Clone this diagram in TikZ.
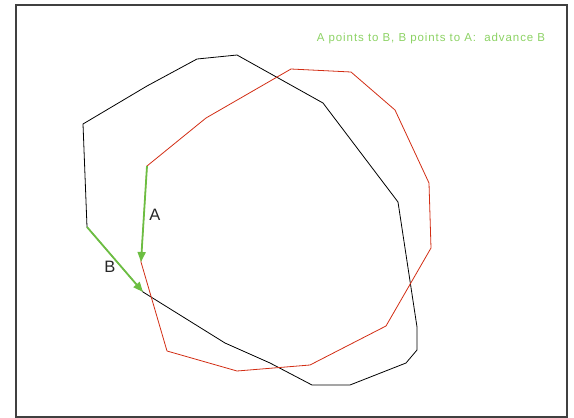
\documentclass[tikz,border=0pt]{standalone}
\usepackage{fontspec}
\setmainfont{Liberation Sans}
\newfontfamily\notefont[LetterSpace=8]{Liberation Sans}
\usetikzlibrary{arrows.meta}
\definecolor{grn}{RGB}{108,190,66}
\definecolor{txtgrn}{RGB}{140,210,100}
\definecolor{redline}{RGB}{210,45,20}
\tikzset{
  frame/.style={draw=black!75,line width=1.2pt},
  blackpoly/.style={draw=black,line width=0.8pt,line join=round},
  redpoly/.style={draw=redline,line width=0.8pt,line join=round},
  ptr/.style={draw=grn,line width=1.8pt,-{Triangle[length=10pt,width=8pt]}},
  lbl/.style={font=\fontsize{16.5}{18}\selectfont,text=black!85,inner sep=0pt},
  note/.style={font=\notefont\fontsize{11.5}{13}\selectfont,text=txtgrn,inner sep=0pt}
}
\begin{document}
\begin{tikzpicture}[x=1pt,y=-1pt]
\useasboundingbox (0,0) rectangle (574,418);
\draw[frame] (16,5) rectangle (567,417);
% black polygon
\coordinate (b1) at (83,124);
\coordinate (b2) at (147,86);
\coordinate (b3) at (197,59);
\coordinate (b4) at (237,55);
\coordinate (b5) at (323,103);
\coordinate (b6) at (398,202);
\coordinate (b7) at (417,327);
\coordinate (b8) at (417,350);
\coordinate (b9) at (406,363);
\coordinate (b10) at (350,385);
\coordinate (b11) at (312,385);
\coordinate (b12) at (270,363);
\coordinate (b13) at (225,343);
\coordinate (b14) at (143,292);
\coordinate (b15) at (87,227);
\draw[blackpoly] (b1)--(b2)--(b3)--(b4)--(b5)--(b6)--(b7)--(b8)--(b9)--(b10)--(b11)--(b12)--(b13)--(b14)--(b15)--cycle;
% red polygon
\coordinate (r1) at (147,166);
\coordinate (r2) at (206,118);
\coordinate (r3) at (291,69);
\coordinate (r4) at (351,72);
\coordinate (r5) at (395,110);
\coordinate (r6) at (429,183);
\coordinate (r7) at (431,248);
\coordinate (r8) at (386,326);
\coordinate (r9) at (310,365);
\coordinate (r10) at (237,371);
\coordinate (r11) at (167,351);
\coordinate (r12) at (141,262);
\draw[redpoly] (r1)--(r2)--(r3)--(r4)--(r5)--(r6)--(r7)--(r8)--(r9)--(r10)--(r11)--(r12)--cycle;
% pointers
\draw[ptr] (r1) -- (r12);
\draw[ptr] (b15) -- (b14);
\node[lbl] (la) at (155,215) {A};
\node[lbl] (lb) at (110,267) {B};
\node[note] (title) at (431,39) {A points to B, B points to A:\ \ advance B};
\end{tikzpicture}
\end{document}
